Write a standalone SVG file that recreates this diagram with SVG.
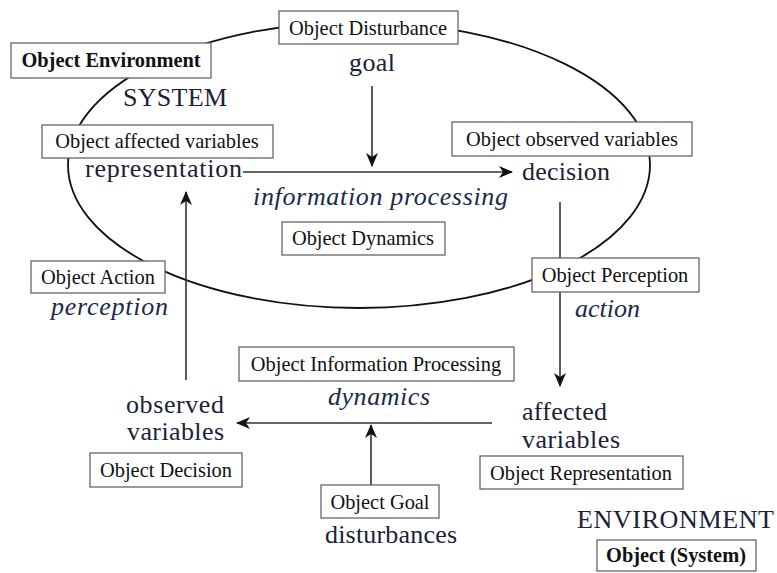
<svg xmlns="http://www.w3.org/2000/svg" width="777" height="573" viewBox="0 0 777 573">
<defs>
<marker id="ah" viewBox="0 0 14 12" markerWidth="14" markerHeight="12" refX="13" refY="6" orient="auto" markerUnits="userSpaceOnUse">
<path d="M0,0 L14,6 L0,12 L4,6 z" fill="#111"/>
</marker>
<style>
.box{fill:#fff;stroke:#666;stroke-width:1.3}
.bt{font-family:"Liberation Serif","Times New Roman",serif;font-size:20.4px;fill:#111;text-anchor:middle}
.bb{font-family:"Liberation Serif","Times New Roman",serif;font-size:20.4px;font-weight:bold;fill:#111;text-anchor:middle}
.lb{font-family:"Liberation Serif","Times New Roman",serif;font-size:26px;fill:#1b2238}
.it{font-family:"Liberation Serif","Times New Roman",serif;font-size:26px;font-style:italic;fill:#1b2a4a}
.ar{stroke:#333;stroke-width:1.6;fill:none;marker-end:url(#ah)}
</style>
</defs>
<rect width="777" height="573" fill="#fff"/>
<ellipse id="system-boundary" cx="359" cy="165" rx="291" ry="143" fill="none" stroke="#111" stroke-width="1.8"/>
<g id="connectors">
<line class="ar" x1="372" y1="86" x2="372" y2="166"/>
<line class="ar" x1="243" y1="172" x2="512" y2="172"/>
<line class="ar" x1="560" y1="202" x2="560" y2="386"/>
<line class="ar" x1="492" y1="423" x2="237" y2="423"/>
<line class="ar" x1="371" y1="486" x2="371" y2="425"/>
<line class="ar" x1="186" y1="380" x2="186" y2="192"/>
</g>
<g id="labels">
<text class="lb" x="349" y="71" textLength="46" lengthAdjust="spacing">goal</text>
<text class="lb" x="123" y="106" textLength="104" lengthAdjust="spacing">SYSTEM</text>
<text class="lb" x="85" y="177" textLength="157" lengthAdjust="spacing">representation</text>
<text class="lb" x="522" y="180" textLength="88" lengthAdjust="spacing">decision</text>
<text class="it" x="253" y="205" textLength="255" lengthAdjust="spacing">information processing</text>
<text class="it" x="51" y="315" textLength="117" lengthAdjust="spacing">perception</text>
<text class="it" x="575" y="317" textLength="65" lengthAdjust="spacing">action</text>
<text class="it" x="328" y="405" textLength="102" lengthAdjust="spacing">dynamics</text>
<text class="lb" x="126" y="413" textLength="98" lengthAdjust="spacing">observed</text>
<text class="lb" x="127" y="440" textLength="97" lengthAdjust="spacing">variables</text>
<text class="lb" x="522" y="420" textLength="85" lengthAdjust="spacing">affected</text>
<text class="lb" x="522" y="448" textLength="98" lengthAdjust="spacing">variables</text>
<text class="lb" x="325" y="543" textLength="132" lengthAdjust="spacing">disturbances</text>
<text class="lb" x="577" y="528" textLength="197" lengthAdjust="spacing">ENVIRONMENT</text>
</g>
<g id="object-disturbance"><rect class="box" x="279" y="11" width="179" height="33"/><text class="bt" x="368" y="35">Object Disturbance</text></g>
<g id="object-environment"><rect class="box" x="11" y="43" width="200" height="35"/><text class="bb" x="111" y="67">Object Environment</text></g>
<g id="object-affected-variables"><rect class="box" x="42" y="125" width="231" height="33"/><text class="bt" x="157" y="148">Object affected variables</text></g>
<g id="object-observed-variables"><rect class="box" x="452" y="122" width="240" height="34"/><text class="bt" x="572" y="146">Object observed variables</text></g>
<g id="object-dynamics"><rect class="box" x="282" y="222" width="163" height="33"/><text class="bt" x="363" y="245">Object Dynamics</text></g>
<g id="object-action"><rect class="box" x="31" y="261" width="134" height="32"/><text class="bt" x="98" y="284">Object Action</text></g>
<g id="object-perception"><rect class="box" x="532" y="258" width="167" height="34"/><text class="bt" x="615" y="282">Object Perception</text></g>
<g id="object-information-processing"><rect class="box" x="239" y="347" width="275" height="34"/><text class="bt" x="376" y="371">Object Information Processing</text></g>
<g id="object-decision"><rect class="box" x="90" y="453" width="152" height="34"/><text class="bt" x="166" y="477">Object Decision</text></g>
<g id="object-representation"><rect class="box" x="480" y="456" width="203" height="33"/><text class="bt" x="581" y="480">Object Representation</text></g>
<g id="object-goal"><rect class="box" x="321" y="485" width="118" height="33"/><text class="bt" x="380" y="509">Object Goal</text></g>
<g id="object-system"><rect class="box" x="597" y="540" width="159" height="31"/><text class="bb" x="676" y="562">Object (System)</text></g>
</svg>
